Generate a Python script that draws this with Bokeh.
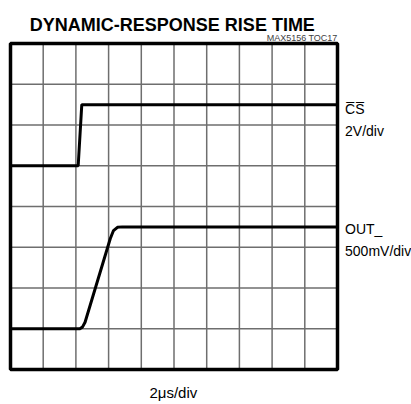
from bokeh.plotting import figure
from bokeh.models import Label, Range1d
from bokeh.embed import file_html
from bokeh.resources import INLINE

# Data (in screen divisions: 10 horizontal x 8 vertical)
cs_t = [0.0, 2.07, 2.18, 10.0]
cs_v = [5.0, 5.0, 6.5, 6.5]
out_t = [0.0, 2.12, 2.2, 2.28, 3.05, 3.15, 3.27, 3.42, 10.0]
out_v = [1.0, 1.0, 1.04, 1.16, 3.21, 3.41, 3.49, 3.5, 3.5]
x_grid_ticks = list(range(0, 11))
y_grid_ticks = list(range(0, 9))

title_text = "DYNAMIC-RESPONSE RISE TIME"
tag_text = "MAX5156 TOC17"
cs_name = "C\u0305S\u0305"
cs_scale = "2V/div"
out_name = "OUT_"
out_scale = "500mV/div"
time_scale = "2\u03bcs/div"

FONT = "Liberation Sans"

W, H = 411, 404
left_px, top_px, grid_w, grid_h = 10, 43, 327, 326
xmin, xmax = x_grid_ticks[0], x_grid_ticks[-1]
ymin, ymax = y_grid_ticks[0], y_grid_ticks[-1]
kx = grid_w / (xmax - xmin)
ky = grid_h / (ymax - ymin)
x_range = Range1d(xmin - left_px / kx, xmin + (W - left_px) / kx)
y_range = Range1d(ymax - (H - top_px) / ky, ymax + top_px / ky)

p = figure(width=W, height=H, output_backend="svg", toolbar_location=None,
           x_range=x_range, y_range=y_range,
           min_border=0, min_border_left=0, min_border_right=0,
           min_border_top=0, min_border_bottom=0)
p.axis.visible = False
p.grid.visible = False
p.outline_line_color = None
p.background_fill_color = "white"
p.border_fill_color = "white"

# graticule
inner_x = x_grid_ticks[1:-1]
inner_y = y_grid_ticks[1:-1]
p.segment(x0=inner_x, y0=[ymin] * len(inner_x), x1=inner_x, y1=[ymax] * len(inner_x),
          line_color="#6e6e6e", line_width=1.5)
p.segment(x0=[xmin] * len(inner_y), y0=inner_y, x1=[xmax] * len(inner_y), y1=inner_y,
          line_color="#6e6e6e", line_width=1.5)

# traces
p.line(cs_t, cs_v, line_color="black", line_width=3)
p.line(out_t, out_v, line_color="black", line_width=3, line_join="round")

# frame border
p.quad(left=[xmin], right=[xmax], bottom=[ymin], top=[ymax], fill_color=None,
       line_color="black", line_width=3.5)

def lab(x, y, text, size, style="normal", align="left", color="black"):
    p.add_layout(Label(x=x, y=y, text=text, text_font=FONT, text_font_size=size,
                       text_font_style=style, text_align=align, text_baseline="alphabetic",
                       text_color=color))

lab(4.95, 8.466, title_text, "18px", style="bold", align="center")
lab(10.0, 8.13, tag_text, "9px", align="right", color="#404040")
lab(10.23, 6.40, cs_name, "14px")
lab(10.23, 5.865, cs_scale, "14px")
lab(10.23, 3.46, out_name, "14px")
lab(10.23, 2.92, out_scale, "14px")
lab(4.98, -0.56, time_scale, "15px", align="center")

open("out.html", "w").write(file_html(p, INLINE))
